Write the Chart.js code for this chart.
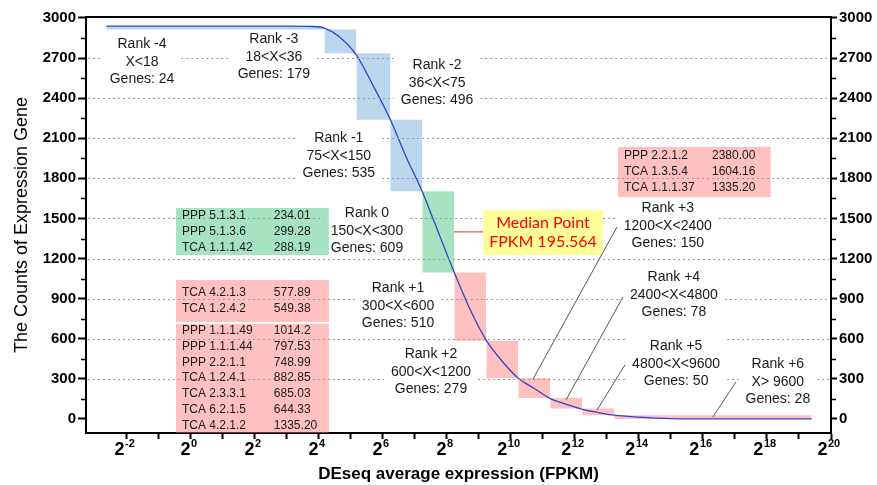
<!DOCTYPE html>
<html lang="en">
<head>
<meta charset="UTF-8">
<title>DEseq average expression ranks</title>
<script src="https://cdn.jsdelivr.net/npm/chart.js"></script>
<style>
  html, body { margin: 0; padding: 0; background: #fff; }
  #wrap { width: 877px; height: 485px; }
</style>
</head>
<body>
<div id="wrap"><canvas id="chart"></canvas></div>
<script>
// ranks of genes by FPKM
const rankNames  = ['Rank -4', 'Rank -3', 'Rank -2', 'Rank -1', 'Rank 0', 'Rank +1', 'Rank +2', 'Rank +3', 'Rank +4', 'Rank +5', 'Rank +6'];
const rankRanges = ['X<18', '18<X<36', '36<X<75', '75<X<150', '150<X<300', '300<X<600', '600<X<1200', '1200<X<2400', '2400<X<4800', '4800<X<9600', 'X> 9600'];
const rankBounds = [0.16, 18, 36, 75, 150, 300, 600, 1200, 2400, 4800, 9600, 690000];
const geneCounts = [24, 179, 496, 535, 609, 510, 279, 150, 78, 50, 28];

// expression curve (FPKM vs. count of genes)
const curveFpkm  = [0.16, 8, 14, 18, 24, 36, 52, 75, 105, 150, 195.564, 300, 425, 600, 850, 1200, 1700, 2400, 3400, 4800, 6800, 9600, 16384, 32768, 65536, 690000];
const curveCount = [2938, 2938, 2936, 2924, 2868, 2722, 2490, 2240, 1965, 1700, 1469, 1095, 815, 588, 430, 305, 228, 152, 110, 72, 48, 28, 14, 3, 0, 0];

const medianFpkm = 195.564;

// enzyme tables
const greenRows = [['PPP 5.1.3.1', '234.01'], ['PPP 5.1.3.6', '299.28'], ['TCA 1.1.1.42', '288.19']];
const pinkRowsA = [['TCA 4.2.1.3', '577.89'], ['TCA 1.2.4.2', '549.38']];
const pinkRowsB = [['PPP 1.1.1.49', '1014.2'], ['PPP 1.1.1.44', '797.53'], ['PPP 2.2.1.1', '748.99'], ['TCA 1.2.4.1', '882.85'],
                   ['TCA 2.3.3.1', '685.03'], ['TCA 6.2.1.5', '644.33'], ['TCA 4.2.1.2', '1335.20']];
const pinkRowsC = [['PPP 2.2.1.2', '2380.00'], ['TCA 1.3.5.4', '1604.16'], ['TCA 1.1.1.37', '1335.20']];

// axis ticks
const yTicks = [0, 300, 600, 900, 1200, 1500, 1800, 2100, 2400, 2700, 3000];
const yMinor = [150, 450, 750, 1050, 1350, 1650, 1950, 2250, 2550, 2850];
const xPowers = [-2, 0, 2, 4, 6, 8, 10, 12, 14, 16, 18, 20];
const xMinorPowers = [-1, 1, 3, 5, 7, 9, 11, 13, 15, 17, 19];

const Y_MIN = -105, Y_MAX = 3007;
const FONT = "'Liberation Sans', Arial, sans-serif";
const BLUE = 'rgba(121,173,221,0.5)';
const GREEN = 'rgba(77,199,135,0.5)';
const PINK = 'rgba(255,110,110,0.43)';
const NONE = 'rgba(0,0,0,0)';

// where the annotations sit: [log2 FPKM, count]
const rankLabelAt = [[-1.53, 2671], [2.59, 2708], [7.69, 2514], [4.62, 1968], [5.5, 1406], [6.47, 845],
                     [7.5, 352], [14.9, 1444], [15.09, 928], [15.16, 411], [18.34, 277]];
const tables = [
  { rows: greenRows, x0: -0.47, x1: 4.31, top: 1578, bottom: 1227, color: GREEN, nameX: -0.28, valX: 2.59, firstY: 1519 },
  { rows: pinkRowsA, x0: -0.47, x1: 4.31, top: 1040, bottom: 726, color: PINK, nameX: -0.28, valX: 2.59, firstY: 943 },
  { rows: pinkRowsB, x0: -0.47, x1: 4.31, top: 711, bottom: Y_MIN, color: PINK, nameX: -0.28, valX: 2.59, firstY: 658 },
  { rows: pinkRowsC, x0: 13.34, x1: 18.12, top: 2035, bottom: 1661, color: PINK, nameX: 13.53, valX: 16.28, firstY: 1968 }
];
const medianBox = { x0: 9.125, x1: 12.875, top: 1564, bottom: 1227, lineY: 1400, textX: 11.0, textY: [1470, 1326] };
const leaders = [
  [[13.31, 1436], [10.69, 299]],
  [[13.5, 913], [11.72, 142]],
  [[13.56, 404], [12.69, 67]],
  [[17.03, 277], [16.31, 15]]
];

function rankColor(i) {
  if (i < 4) return BLUE;
  if (i === 4) return GREEN;
  return PINK;
}

// rank bars: each spans its FPKM range, from the genes left above it to those below
const total = geneCounts.reduce((a, b) => a + b, 0);
const rankSets = [];
let above = total;
geneCounts.forEach((n, i) => {
  rankSets.push({
    data: [{ x: rankBounds[i], y: above }, { x: rankBounds[i + 1], y: above }],
    backgroundColor: rankColor(i),
    borderColor: NONE,
    borderWidth: 0,
    pointRadius: 0,
    fill: { value: above - n }
  });
  above -= n;
});

const tableSets = tables.map(t => ({
  data: [{ x: 2 ** t.x0, y: t.top }, { x: 2 ** t.x1, y: t.top }],
  backgroundColor: t.color, borderColor: NONE, borderWidth: 0, pointRadius: 0, fill: { value: t.bottom }
}));

const yellowSet = {
  data: [{ x: 2 ** medianBox.x0, y: medianBox.top }, { x: 2 ** medianBox.x1, y: medianBox.top }],
  backgroundColor: '#ffff99', borderColor: NONE, borderWidth: 0, pointRadius: 0, fill: { value: medianBox.bottom }
};

const medianLine = {
  data: [{ x: rankBounds[5], y: medianBox.lineY }, { x: 2 ** medianBox.x0, y: medianBox.lineY }],
  borderColor: '#f27070', borderWidth: 1.5, pointRadius: 0, fill: false
};

const leaderSets = leaders.map(l => ({
  data: l.map(p => ({ x: 2 ** p[0], y: p[1] })),
  borderColor: '#555', borderWidth: 1, pointRadius: 0, fill: false
}));

const curveSet = {
  data: curveFpkm.map((f, i) => ({ x: f, y: curveCount[i] })),
  borderColor: '#2f45c8',
  borderWidth: 1.3,
  pointRadius: 0,
  fill: false,
  cubicInterpolationMode: 'monotone'
};

function rankLines(i) {
  return [rankNames[i], rankRanges[i], 'Genes: ' + geneCounts[i]];
}

const annotate = {
  id: 'annotate',
  afterDatasetsDraw(chart) {
    const { ctx, chartArea: a, scales: { x, y } } = chart;

    // dotted grid, broken around the rank labels and the median box
    ctx.save();
    ctx.font = '14px ' + FONT;
    const gaps = rankNames.map((n, i) => {
      const w = Math.max(...rankLines(i).map(s => ctx.measureText(s).width)) + 14;
      const cx = x.getPixelForValue(2 ** rankLabelAt[i][0]);
      const cy = y.getPixelForValue(rankLabelAt[i][1]);
      return { x0: cx - w / 2, x1: cx + w / 2, y0: cy - 27, y1: cy + 27 };
    });
    gaps.push({
      x0: x.getPixelForValue(2 ** medianBox.x0), x1: x.getPixelForValue(2 ** medianBox.x1),
      y0: y.getPixelForValue(medianBox.top), y1: y.getPixelForValue(medianBox.bottom)
    });
    ctx.strokeStyle = '#9a9a9a';
    ctx.lineWidth = 1;
    ctx.setLineDash([2, 3]);
    yTicks.forEach(v => {
      if (v <= 0 || v >= 3000) return;
      const py = Math.round(y.getPixelForValue(v)) + 0.5;
      const cuts = gaps.filter(g => py >= g.y0 && py <= g.y1).sort((p, q) => p.x0 - q.x0);
      let start = a.left + 2;
      ctx.beginPath();
      cuts.forEach(g => {
        if (g.x0 > start) { ctx.moveTo(start, py); ctx.lineTo(g.x0, py); }
        start = Math.max(start, g.x1);
      });
      if (a.right - 2 > start) { ctx.moveTo(start, py); ctx.lineTo(a.right - 2, py); }
      ctx.stroke();
    });
    ctx.restore();

    ctx.save();
    ctx.textBaseline = 'middle';
    ctx.fillStyle = '#1a1a1a';
    ctx.font = '14px ' + FONT;
    ctx.textAlign = 'center';
    rankNames.forEach((n, i) => {
      const cx = x.getPixelForValue(2 ** rankLabelAt[i][0]);
      const cy = y.getPixelForValue(rankLabelAt[i][1]);
      rankLines(i).forEach((s, k) => ctx.fillText(s, cx, cy + (k - 1) * 17.5));
    });

    ctx.font = '12px ' + FONT;
    ctx.textAlign = 'left';
    tables.forEach(t => {
      const y0 = y.getPixelForValue(t.firstY);
      const nx = x.getPixelForValue(2 ** t.nameX);
      const vx = x.getPixelForValue(2 ** t.valX);
      t.rows.forEach((r, k) => {
        ctx.fillText(r[0], nx, y0 + k * 15.7);
        ctx.fillText(r[1], vx, y0 + k * 15.7);
      });
    });

    ctx.font = '16px Lato, ' + FONT;
    ctx.fillStyle = '#ff0000';
    ctx.textAlign = 'center';
    const mx = x.getPixelForValue(2 ** medianBox.textX);
    ctx.fillText('Median Point', mx, y.getPixelForValue(medianBox.textY[0]));
    ctx.fillText('FPKM ' + medianFpkm, mx, y.getPixelForValue(medianBox.textY[1]));
    ctx.restore();
  },
  afterDraw(chart) {
    const { ctx, chartArea: a, scales: { x, y } } = chart;
    ctx.save();
    ctx.strokeStyle = '#000';
    // top frame line
    ctx.lineWidth = 2;
    ctx.beginPath();
    ctx.moveTo(a.left - 1, a.top);
    ctx.lineTo(a.right + 1, a.top);
    ctx.stroke();
    // minor ticks on both y axes
    ctx.lineWidth = 1.5;
    yMinor.forEach(v => {
      const py = Math.round(y.getPixelForValue(v)) + 0.5;
      ctx.beginPath();
      ctx.moveTo(a.left - 5, py); ctx.lineTo(a.left, py);
      ctx.moveTo(a.right, py); ctx.lineTo(a.right + 5, py);
      ctx.stroke();
    });
    // x tick labels 2^n
    ctx.fillStyle = '#000';
    ctx.textBaseline = 'alphabetic';
    ctx.textAlign = 'left';
    xPowers.forEach(p => {
      const px = x.getPixelForValue(2 ** p);
      ctx.font = 'bold 18px ' + FONT;
      const wb = ctx.measureText('2').width;
      ctx.font = 'bold 11px ' + FONT;
      const we = ctx.measureText(String(p)).width;
      const left = px - (wb + we) / 2 - 2.5;
      ctx.font = 'bold 18px ' + FONT;
      ctx.fillText('2', left, a.bottom + 22);
      ctx.font = 'bold 11px ' + FONT;
      ctx.fillText(String(p), left + wb + 0.5, a.bottom + 14);
    });
    ctx.restore();
  }
};

function yAxis(position, width, tickLen, pad, withTitle) {
  return {
    type: 'linear',
    position: position,
    min: Y_MIN,
    max: Y_MAX,
    afterBuildTicks: s => { s.ticks = yTicks.map(v => ({ value: v })); },
    afterFit: s => { s.width = width; },
    ticks: {
      color: '#000',
      padding: pad,
      font: { family: FONT, size: 15, weight: 'bold' },
      callback: v => String(v)
    },
    grid: {
      display: true,
      drawOnChartArea: false,
      drawTicks: true,
      tickLength: tickLen,
      tickColor: '#000',
      tickWidth: 2
    },
    border: { display: true, color: '#000', width: 2 },
    title: {
      display: withTitle,
      text: 'The Counts of Expression Gene',
      color: '#000',
      font: { family: FONT, size: 18 },
      padding: { top: 11, bottom: 0 }
    }
  };
}

new Chart(document.getElementById('chart'), {
  type: 'line',
  data: {
    datasets: [curveSet, medianLine, ...leaderSets, ...rankSets, ...tableSets, yellowSet]
  },
  options: {
    responsive: true,
    maintainAspectRatio: false,
    animation: false,
    devicePixelRatio: 1,
    layout: { padding: { top: 17, left: 0, right: 0, bottom: 0 } },
    plugins: { legend: { display: false }, tooltip: { enabled: false } },
    scales: {
      x: {
        type: 'logarithmic',
        position: 'bottom',
        min: 2 ** -3.28,
        max: 2 ** 20,
        afterBuildTicks: s => {
          s.ticks = xPowers.concat(xMinorPowers).sort((a, b) => a - b).map(p => ({ value: 2 ** p }));
        },
        afterFit: s => { s.height = 52; },
        ticks: { autoSkip: false, maxRotation: 0, callback: () => '' },
        grid: { drawOnChartArea: false, drawTicks: true, tickLength: 6, tickColor: '#000', tickWidth: 2 },
        border: { display: true, color: '#000', width: 2 },
        title: {
          display: true,
          text: 'DEseq average expression (FPKM)',
          color: '#000',
          font: { family: FONT, size: 17, weight: 'bold' },
          padding: { top: 0, bottom: 0 }
        }
      },
      y: yAxis('left', 86, 8, 2, true),
      y2: yAxis('right', 46, 6, 2, false)
    }
  },
  plugins: [annotate]
});
</script>
</body>
</html>
